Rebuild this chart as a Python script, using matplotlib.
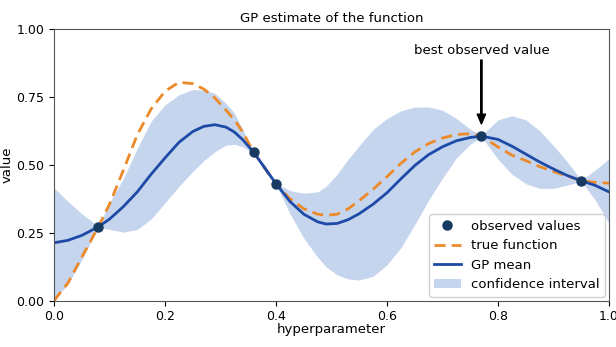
import matplotlib
matplotlib.use("Agg")
import matplotlib.pyplot as plt

# values
grid_x = [0.0, 0.025, 0.05, 0.08, 0.1, 0.125, 0.15, 0.175, 0.2, 0.225, 0.25, 0.27,
          0.29, 0.31, 0.325, 0.34, 0.36, 0.38, 0.40, 0.425, 0.45, 0.475, 0.49, 0.51,
          0.53, 0.55, 0.575, 0.6, 0.625, 0.65, 0.675, 0.7, 0.725, 0.75, 0.77, 0.8,
          0.825, 0.85, 0.875, 0.9, 0.925, 0.95, 0.975, 1.0]
true_fn = [0.0, 0.065, 0.16, 0.272, 0.355, 0.48, 0.61, 0.705, 0.77, 0.803, 0.798, 0.778,
           0.745, 0.70, 0.665, 0.62, 0.545, 0.487, 0.43, 0.375, 0.338, 0.318, 0.314, 0.318,
           0.338, 0.368, 0.41, 0.456, 0.505, 0.547, 0.578, 0.598, 0.611, 0.614, 0.605, 0.565,
           0.535, 0.515, 0.493, 0.475, 0.458, 0.441, 0.435, 0.432]
gp_mean = [0.213, 0.222, 0.24, 0.272, 0.30, 0.346, 0.40, 0.465, 0.525, 0.582, 0.622, 0.641,
           0.647, 0.638, 0.62, 0.592, 0.545, 0.487, 0.43, 0.365, 0.318, 0.29, 0.282, 0.284,
           0.298, 0.32, 0.355, 0.397, 0.448, 0.497, 0.537, 0.566, 0.588, 0.600, 0.605, 0.593,
           0.568, 0.539, 0.51, 0.484, 0.46, 0.441, 0.424, 0.40]
ci_upper = [0.415, 0.365, 0.32, 0.274, 0.36, 0.45, 0.56, 0.66, 0.72, 0.757, 0.776, 0.775,
            0.762, 0.725, 0.69, 0.63, 0.548, 0.50, 0.432, 0.405, 0.395, 0.40, 0.42, 0.465,
            0.52, 0.57, 0.63, 0.67, 0.698, 0.712, 0.712, 0.70, 0.67, 0.63, 0.607, 0.665,
            0.68, 0.665, 0.625, 0.57, 0.51, 0.443, 0.48, 0.523]
ci_lower = [0.005, 0.06, 0.15, 0.270, 0.262, 0.252, 0.262, 0.30, 0.36, 0.42, 0.475, 0.515,
            0.548, 0.572, 0.575, 0.566, 0.542, 0.474, 0.428, 0.32, 0.23, 0.16, 0.125, 0.095,
            0.08, 0.076, 0.09, 0.132, 0.195, 0.28, 0.37, 0.45, 0.525, 0.575, 0.603, 0.52,
            0.465, 0.43, 0.413, 0.413, 0.425, 0.439, 0.37, 0.285]

obs_x = [0.08, 0.36, 0.40, 0.77, 0.95]
obs_y = [0.272, 0.545, 0.43, 0.605, 0.441]

best = obs_y.index(max(obs_y))

plt.rcParams["font.family"] = "DejaVu Sans"
plt.rcParams["font.size"] = 9.5
plt.rcParams["xtick.labelsize"] = 9
plt.rcParams["ytick.labelsize"] = 9

fig = plt.figure(figsize=(6.16, 3.47), dpi=100)
ax = fig.add_axes([0.0877, 0.1334, 0.9010, 0.7839])

ax.fill_between(grid_x, ci_lower, ci_upper, color="#c6d5ee", linewidth=0,
                label="confidence interval")
ax.plot(grid_x, true_fn, "--", color="#ec8a2a", linewidth=2, dashes=(4, 2.2),
        label="true function")
ax.plot(grid_x, gp_mean, "-", color="#1c4aa6", linewidth=2, label="GP mean")
ax.plot(obs_x, obs_y, "o", color="#173a63", markersize=6.5, label="observed values")

ax.annotate("best observed value", xy=(obs_x[best], obs_y[best] + 0.045),
            xytext=(obs_x[best], 0.895), ha="center", va="bottom",
            arrowprops=dict(facecolor="black", edgecolor="black", width=1,
                            headwidth=6, headlength=7, shrink=0.0))

ax.set_xlim(0, 1)
ax.set_ylim(0, 1)
ax.set_yticks([0, 0.25, 0.5, 0.75, 1.0])
ax.set_xlabel("hyperparameter", labelpad=0)
ax.set_ylabel("value", labelpad=2)
ax.set_title("GP estimate of the function", fontsize=9.5, pad=5)

for s in ax.spines.values():
    s.set_color("#555555")

handles, labels = ax.get_legend_handles_labels()
order = [3, 1, 2, 0]
ax.legend([handles[i] for i in order], [labels[i] for i in order],
          loc="lower right", framealpha=0.9, borderaxespad=0.3)

fig.savefig("out.png", dpi=100)
